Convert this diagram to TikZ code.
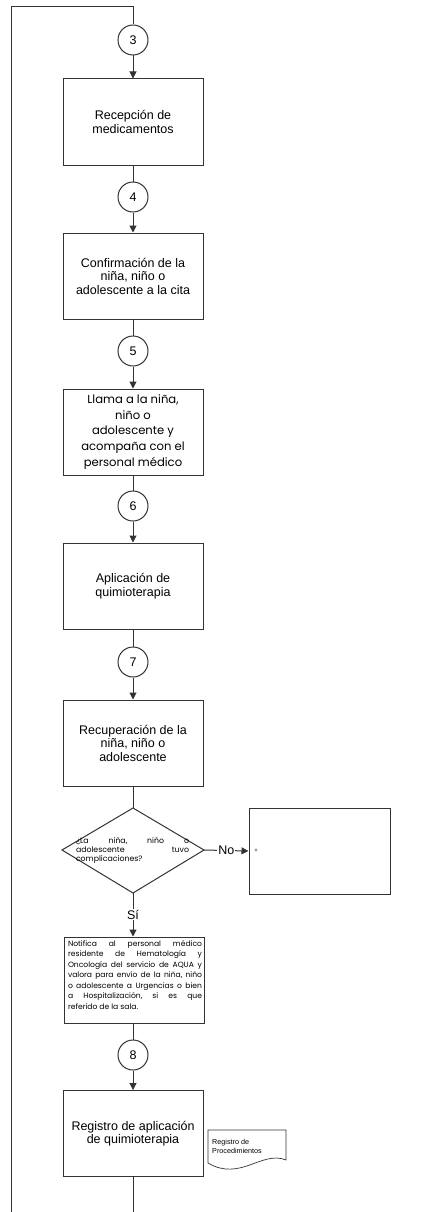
\documentclass[tikz,border=0pt]{standalone}
\usepackage{fontspec}
\setmainfont{Liberation Sans}
\newfontfamily\geofont{Poppins}
\usetikzlibrary{arrows.meta}

\begin{document}
\begin{tikzpicture}[x=1pt,y=-1pt,
  line/.style={draw=black!80, line width=1pt},
  arr/.style={line, -{Triangle[width=7pt,length=7pt]}},
  proc/.style={line, minimum width=140pt, minimum height=86pt, inner sep=0pt,
    align=center, font=\fontsize{12.5}{13.5}\selectfont},
  conn/.style={line, circle, minimum size=30pt, inner sep=0pt,
    font=\fontsize{12.5}{12.5}\selectfont},
  lbl/.style={fill=white, inner sep=1pt, font=\fontsize{12.5}{12.5}\selectfont}
]
\useasboundingbox (0,0) rectangle (433,1212);

% connectors between steps
\node[conn] (c3) at (133,40) {3};
\node[proc] (b1) at (133,122) {Recepción de\\medicamentos};
\node[conn] (c4) at (133,197) {4};
\node[proc] (b2) at (133,276) {Confirmación de la\\niña, niño o\\adolescente a la cita};
\node[conn] (c5) at (133,351) {5};
\node[proc, font=\geofont\fontsize{11.6}{15.6}\selectfont] (b3) at (133,432)
  {Llama a la niña,\\niño o\\adolescente y\\acompaña con el\\personal médico};
\node[conn] (c6) at (133,506) {6};
\node[proc] (b4) at (133,586) {Aplicación de\\quimioterapia};
\node[conn] (c7) at (133,662) {7};
\node[proc] (b5) at (133,743) {Recuperación de la\\niña, niño o\\adolescente};

% decision
\coordinate (dN) at (133,808);
\coordinate (dE) at (204,850);
\coordinate (dS) at (133,893);
\coordinate (dW) at (62,850);
\draw[line] (dN) -- (dE) -- (dS) -- (dW) -- cycle;
\node[inner sep=0pt, font=\geofont\fontsize{7.8}{9}\selectfont, align=left] (dq) at (132.5,851)
  {\hbox to 113pt{¿La\hfill niña,\hfill niño\hfill o}\\
   \hbox to 113pt{adolescente\hfill tuvo}\\
   \hbox to 113pt{complicaciones?\hfill}};

\node[line, minimum width=141pt, minimum height=86pt, inner sep=0pt] (rb) at (319.5,851) {};
\node[font=\fontsize{6}{6}\selectfont, inner sep=0pt] (plus) at (256,851) {+};

\node[line, minimum width=140pt, minimum height=86pt, inner sep=0pt] (b6) at (134,980) {};
\node[anchor=north, inner sep=0pt, font=\geofont\fontsize{7.6}{10.5}\selectfont, align=left] (t6) at (135,940)
  {\hbox to 134pt{Notifica\hfill al\hfill personal\hfill médico}\\
   \hbox to 134pt{residente\hfill de\hfill Hematología\hfill y}\\
   \hbox to 134pt{Oncología\hfill del\hfill servicio\hfill de\hfill AQUA\hfill y}\\
   \hbox to 134pt{valora\hfill para\hfill envío\hfill de\hfill la\hfill niña,\hfill niño}\\
   \hbox to 134pt{o\hfill adolescente\hfill a\hfill Urgencias\hfill o\hfill bien}\\
   \hbox to 134pt{a\hfill Hospitalización,\hfill si\hfill es\hfill que}\\
   \hbox to 134pt{referido de la sala.\hfill}};

\node[conn] (c8) at (133,1055) {8};
\node[proc] (b7) at (133,1133.5) {Registro de aplicación\\de quimioterapia};

% document symbol
\coordinate (docA) at (208,1130);
\coordinate (docB) at (286,1130);
\coordinate (docC) at (286,1160);
\coordinate (docD) at (208,1163);
\draw[line, line width=0.7pt] (docD) -- (docA) -- (docB) -- (docC)
  .. controls (262,1150) and (240,1182) .. (docD);
\node[anchor=north west, inner sep=0pt, align=left, font=\fontsize{7.2}{9}\selectfont] (doc) at (212,1139)
  {Registro de\\Procedimientos};

% loop coming in from the left and leaving at the bottom
\coordinate (loopB) at (11,1212);
\coordinate (loopTL) at (11,7);
\coordinate (loopTR) at (133,7);
\coordinate (outB) at (133,1212);
\draw[line] (loopB) -- (loopTL) -- (loopTR) -- (c3.north);

\draw[arr] (c3) -- (b1);
\draw[line] (b1) -- (c4);
\draw[arr] (c4) -- (b2);
\draw[line] (b2) -- (c5);
\draw[arr] (c5) -- (b3);
\draw[line] (b3) -- (c6);
\draw[arr] (c6) -- (b4);
\draw[line] (b4) -- (c7);
\draw[arr] (c7) -- (b5);
\draw[line] (b5) -- (dN);
\draw[arr] (dE) -- node[lbl] {No} (rb.west);
\draw[arr] (dS) -- node[lbl] {Sí} (dS |- b6.north);
\draw[line] (c8 |- b6.south) -- (c8);
\draw[arr] (c8) -- (b7);
\draw[line] (b7) -- (outB);
\end{tikzpicture}
\end{document}
